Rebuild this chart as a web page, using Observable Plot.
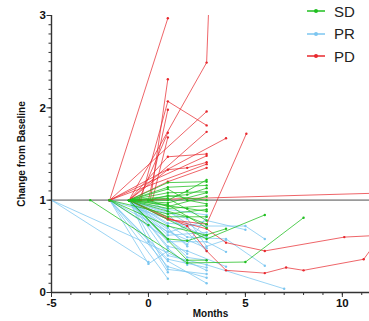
<!DOCTYPE html>
<html>
<head>
<meta charset="utf-8">
<script src="https://cdn.jsdelivr.net/npm/d3@7"></script>
<script src="https://cdn.jsdelivr.net/npm/@observablehq/plot@0.6"></script>
<style>
  html, body { margin: 0; padding: 0; background: #fff; }
  #wrap { position: relative; width: 369px; height: 321px; font-family: "Liberation Sans", Arial, sans-serif; }
  #legend { position: absolute; left: 306px; top: 0px; }
  .item { display: flex; align-items: center; height: 22.5px; font-size: 15px; color: #222; }
  .item svg { margin-right: 8px; }
</style>
</head>
<body>
<div id="wrap"><div id="legend"></div></div>
<script>
// Groups and colours
const groups = ["SD", "PR", "PD"];
const groupColors = ["#1fbf1f", "#7cc6f0", "#e8282e"];

// Months / change-from-baseline points per patient, by response group
const sdSeries = [
  [[-3,1],[2,0.32],[5,0.33],[8,0.81]],
  [[-1,1],[3,0.58],[6,0.84]],
  [[-1,1],[1,1.19],[3,1.2]],
  [[-1,1],[1,1.14],[3,1.16]],
  [[-1,1],[1,1.08],[3,1.09]],
  [[-1,1],[2,1.06],[3,1.13]],
  [[-1,1],[1,0.97],[3,1.08]],
  [[-1,1],[1,0.91],[3,0.94]],
  [[-1,1],[2,0.91],[3,0.88]],
  [[-1,1],[1,1.02],[3,0.78]],
  [[-1,1],[1,0.95],[3,0.7]],
  [[0,1],[1,1.05],[3,1.0]],
  [[-2,1],[0,0.73]],
  [[-2,1],[1,0.85],[3,0.9]],
  [[-1,1],[1,0.58],[2,0.56],[4,0.69]],
  [[-1,1],[2,0.35],[3,0.35]],
  [[-1,1],[1,1.12],[2,1.0],[3,0.96]],
  [[0,1],[1,0.93],[3,1.04]],
  [[-1,1],[1,0.88],[2,0.82],[3,0.74]],
  [[-1,1],[1,1.0],[2,1.1],[3,1.22]],
  [[-1,1],[1,0.82],[3,0.82]],
  [[-2,1],[1,0.72],[3,0.62]]
];
const prSeries = [
  [[-5,1],[0,0.33]],
  [[-5,1],[3,0.24]],
  [[-2,1],[1,0.15]],
  [[-2,1],[0,0.31],[1,0.45]],
  [[-2,1],[1,0.28],[3,0.16]],
  [[-2,1],[1,0.34],[3,0.1]],
  [[-1,1],[1,0.4],[3,0.3],[7,0.04]],
  [[-1,1],[1,0.5],[2,0.45],[4,0.28]],
  [[-1,1],[1,0.55],[3,0.55],[4,0.44]],
  [[-1,1],[2,0.6],[4,0.58],[6,0.29]],
  [[-1,1],[1,0.75],[3,0.72],[5,0.72],[6,0.58]],
  [[-1,1],[1,0.65],[3,0.78],[5,0.68]],
  [[-1,1],[1,0.62],[3,0.65]],
  [[-1,1],[1,0.7],[2,0.5]],
  [[-2,1],[1,0.8],[3,0.6]],
  [[-1,1],[1,0.85],[3,0.45]],
  [[-1,1],[2,0.38],[3,0.35]],
  [[-2,1],[1,0.58],[2,0.42]],
  [[-1,1],[0,0.55],[1,0.22]],
  [[-1,1],[1,0.9],[3,0.84]],
  [[0,1],[1,0.88],[3,0.62]],
  [[-1,1],[2,0.8],[3,0.5],[4,0.57]],
  [[-2,1],[1,0.36],[3,0.27]],
  [[-1,1],[1,0.48],[2,0.3]],
  [[-1,1],[1,0.25],[3,0.2]],
  [[-2,1],[1,0.66],[3,0.48]],
  [[-1,1],[2,0.52],[3,0.82]]
];
const pdSeries = [
  [[-2,1],[1,2.97]],
  [[-1,1],[3,2.49],[3.12,3.15]],
  [[0.1,1],[1,2.31]],
  [[-0.4,1],[1,2.07],[3,1.81]],
  [[0,1],[1,1.98]],
  [[-2,1],[3,1.96]],
  [[-0.5,1],[1,1.73]],
  [[0.2,1],[1,1.68]],
  [[-1,1],[3,1.74]],
  [[-2,1],[4,1.67]],
  [[-1,1],[1,1.47],[3,1.5]],
  [[-2,1],[3,1.48]],
  [[-1,1],[1,1.33],[2,1.35],[3,1.41]],
  [[-2,1],[3,1.39]],
  [[-1,1],[1,1.2],[3,1.35]],
  [[-1,1],[1,0.79],[3,0.74],[5.05,1.72]],
  [[-1,1],[12.5,1.08]],
  [[-1,1],[1,0.8],[3,0.69],[4,0.54],[6,0.45],[10.1,0.6],[12,0.62]],
  [[-1,1],[2,0.72],[3,0.45],[4,0.24],[6,0.21],[7.1,0.27],[8,0.24],[11.1,0.36],[12,0.62]]
];

// Axis ticks
const xTicks = [-5, 0, 5, 10];
const yTicks = [0, 1, 2, 3];

function toRows(series, group) {
  const rows = [];
  series.forEach((s, i) => s.forEach(([x, y]) => rows.push({group, id: group + i, x, y})));
  return rows;
}
const sdRows = toRows(sdSeries, "SD");
const prRows = toRows(prSeries, "PR");
const pdRows = toRows(pdSeries, "PD");
const col = g => groupColors[groups.indexOf(g)];

const axisColor = "#333";
const chart = Plot.plot({
  width: 369,
  height: 321,
  marginLeft: 51,
  marginRight: 0,
  marginTop: 15,
  marginBottom: 29,
  style: {fontFamily: "'Liberation Sans', Arial, sans-serif", background: "#fff"},
  x: {domain: [-5, 11.4]},
  y: {domain: [0, 3]},
  marks: [
    Plot.ruleY([1], {stroke: "#9a9a9a", strokeWidth: 1.6}),
    Plot.line(prRows, {x: "x", y: "y", z: "id", stroke: col("PR"), strokeWidth: 0.9, strokeOpacity: 0.85, clip: true}),
    Plot.dot(prRows, {x: "x", y: "y", r: 1.2, fill: col("PR"), clip: true}),
    Plot.line(pdRows, {x: "x", y: "y", z: "id", stroke: col("PD"), strokeWidth: 0.9, strokeOpacity: 0.8, clip: true}),
    Plot.dot(pdRows, {x: "x", y: "y", r: 1.2, fill: col("PD"), clip: true}),
    Plot.line(sdRows, {x: "x", y: "y", z: "id", stroke: col("SD"), strokeWidth: 0.9, strokeOpacity: 0.85, clip: true}),
    Plot.dot(sdRows, {x: "x", y: "y", r: 1.2, fill: col("SD"), clip: true}),
    // minor ticks
    Plot.axisX({ticks: d3.range(-5, 12, 1), tickSize: 3, text: null, stroke: axisColor, label: null}),
    Plot.axisY({ticks: d3.range(0, 30).map(d => d / 10), tickSize: 2.5, text: null, stroke: axisColor, label: null}),
    // major ticks
    Plot.axisX({ticks: xTicks, tickFormat: d => String(d), tickSize: 5, tickPadding: 1, stroke: axisColor, fill: "#111", fontSize: 11.5, fontWeight: "bold", label: null}),
    Plot.axisY({ticks: yTicks, tickFormat: d => String(d), tickSize: 4.5, tickPadding: 1, stroke: axisColor, fill: "#111", fontSize: 11.5, fontWeight: "bold", label: null}),
    Plot.ruleY([0], {stroke: axisColor, strokeWidth: 1.4}),
    Plot.ruleX([-5], {stroke: axisColor, strokeWidth: 1.4}),
    Plot.text(["Months"], {frameAnchor: "bottom", textAnchor: "middle", dy: 24, fontSize: 10, fontWeight: "bold", fill: "#111"}),
    Plot.text(["Change from Baseline"], {frameAnchor: "left", textAnchor: "middle", dx: -30, rotate: -90, fontSize: 10, fontWeight: "bold", fill: "#111"})
  ]
});
document.getElementById("wrap").prepend(chart);

// Legend
const legend = document.getElementById("legend");
groups.forEach((g, i) => {
  const div = document.createElement("div");
  div.className = "item";
  div.innerHTML = `<svg width="20" height="10"><line x1="1" x2="19" y1="5" y2="5" stroke="${groupColors[i]}" stroke-width="1.5"/><circle cx="10" cy="5" r="2" fill="${groupColors[i]}"/></svg><span>${g}</span>`;
  legend.appendChild(div);
});
</script>
</body>
</html>
